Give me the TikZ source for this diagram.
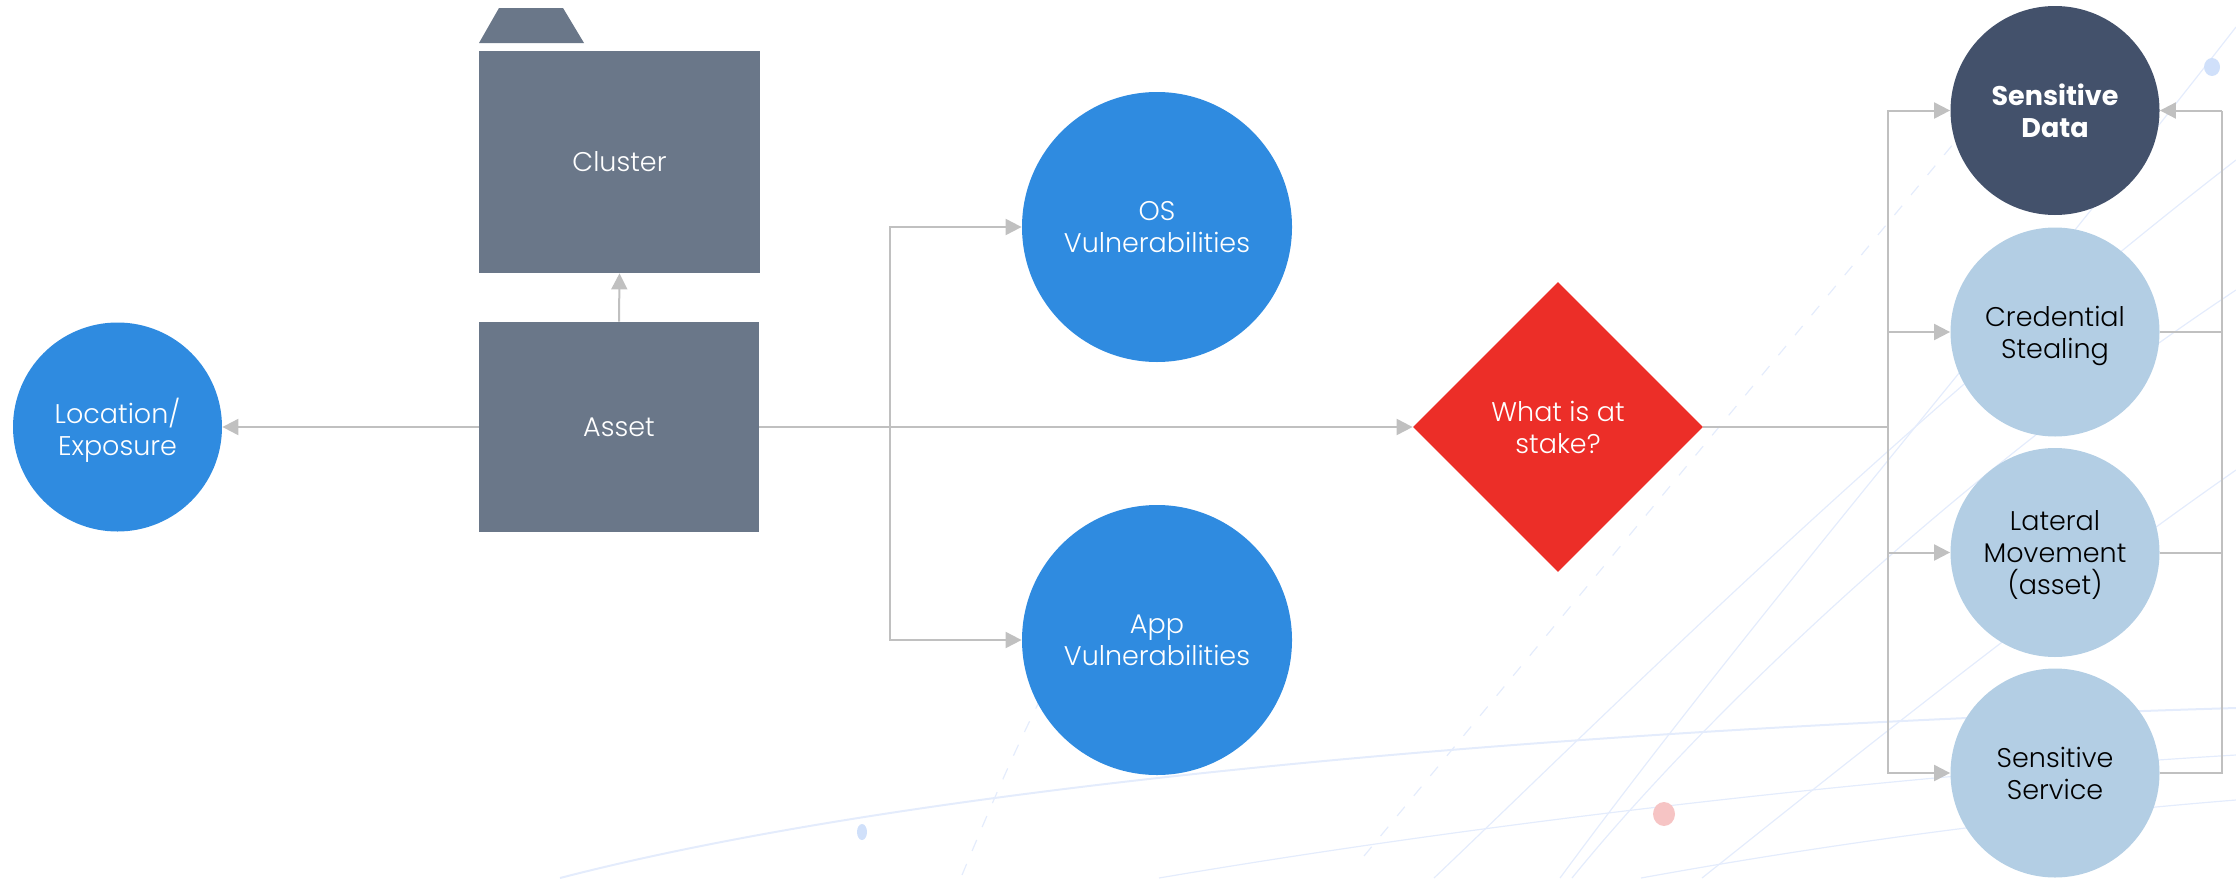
\documentclass[tikz,border=0pt]{standalone}
\usepackage{fontspec}
\setmainfont{Poppins}[UprightFont={* Light},BoldFont={* Bold}]
\usetikzlibrary{shapes.geometric,arrows.meta}
\definecolor{cblue}{RGB}{47,139,224}
\definecolor{cslate}{RGB}{106,119,137}
\definecolor{cnavy}{RGB}{67,81,107}
\definecolor{clight}{RGB}{179,206,228}
\definecolor{cred}{RGB}{236,46,40}
\definecolor{cgray}{RGB}{192,192,192}
\definecolor{bgline}{RGB}{228,236,252}
\definecolor{bgdot}{RGB}{208,224,250}
\definecolor{bgpink}{RGB}{246,196,196}
\begin{document}
\begin{tikzpicture}[x=0.5pt,y=-0.5pt,
  txt/.style={align=center,text depth=0pt,font=\fontsize{13.5}{16}\selectfont},
  circ/.style={circle,inner sep=0pt,minimum size=104.5pt,txt},
  bluecirc/.style={circ,fill=cblue,text=white,minimum size=135pt},
  lightcirc/.style={circ,fill=clight,text=black},
  box/.style={rectangle,fill=cslate,text=white,inner sep=0pt,txt},
  conn/.style={draw=cgray,line width=1pt,-{Triangle[length=8pt,width=8pt]}},
  wire/.style={draw=cgray,line width=1pt},
  bg/.style={draw=bgline,line width=0.6pt}]
\useasboundingbox (0,0) rectangle (2236,878);
% background decoration
\draw[bg,line width=1pt] (560,878) .. controls (900,790) and (1500,730) .. (2236,708);
\draw[bg] (1159,878) .. controls (1500,820) and (1900,775) .. (2236,755);
\draw[bg] (1641,878) .. controls (1850,840) and (2050,815) .. (2236,800);
\draw[bg] (1434,878) .. controls (1600,720) and (1900,420) .. (2236,160);
\draw[bg] (1572,878) .. controls (1700,720) and (1950,480) .. (2236,290);
\draw[bg] (1702,878) .. controls (1850,760) and (2050,600) .. (2236,470);
\draw[bg] (1560,878) .. controls (1750,620) and (2000,330) .. (2236,27);
\draw[bg,dashed,dash pattern=on 6pt off 7pt] (1364,856) -- (1954,143);
\draw[bg,dashed,dash pattern=on 6pt off 7pt] (962,875) .. controls (985,820) and (1010,760) .. (1040,700);
\fill[bgdot] (862,832) ellipse (5 and 8);
\fill[bgpink] (1664,814) ellipse (11 and 12);
\fill[bgdot] (2212,67) ellipse (8 and 9);
% nodes
\node[circ,fill=cblue,text=white] (loc) at (117.5,427) {Location/\\Exposure};
\node[box,minimum width=140pt,minimum height=105pt] (asset) at (619,427) {Asset};
\node[box,minimum width=140.5pt,minimum height=111pt] (cluster) at (619.5,162) {Cluster};
\fill[cslate] (479,43) -- (499,8) -- (563,8) -- (584,43) -- cycle;
\node[bluecirc] (os) at (1157,227) {OS\\Vulnerabilities};
\node[bluecirc] (app) at (1157,640) {App\\Vulnerabilities};
\node[diamond,fill=cred,text=white,inner sep=0pt,minimum width=145pt,minimum height=145pt,txt] (stake) at (1558,427) {What is at\\stake?};
\node[circ,fill=cnavy,text=white,font=\fontsize{13.5}{16}\selectfont\bfseries] (sd) at (2055,110.5) {Sensitive\\Data};
\node[lightcirc] (cs) at (2055,332) {Credential\\Stealing};
\node[lightcirc] (lm) at (2055,552.5) {Lateral\\Movement\\(asset)};
\node[lightcirc] (ss) at (2055,773) {Sensitive\\Service};
\coordinate (br) at (890,427);
\coordinate (lb) at (1888,427);
\coordinate (rb) at (2222,110.5);
% connectors
\draw[conn] (asset.west) -- (loc.east);
\draw[conn] (asset.north) -- (cluster.south);
\draw[conn] (asset.east) -- (stake.west);
\draw[conn] (br) |- (os.west);
\draw[conn] (br) |- (app.west);
\draw[wire] (stake.east) -- (lb);
\draw[conn] (lb) |- (sd.west);
\draw[conn] (lb) |- (cs.west);
\draw[conn] (lb) |- (lm.west);
\draw[conn] (lb) |- (ss.west);
\draw[wire] (cs.east) -| (rb);
\draw[wire] (lm.east) -| (rb);
\draw[wire] (ss.east) -| (rb);
\draw[conn] (rb) -- (sd.east);
\end{tikzpicture}
\end{document}
